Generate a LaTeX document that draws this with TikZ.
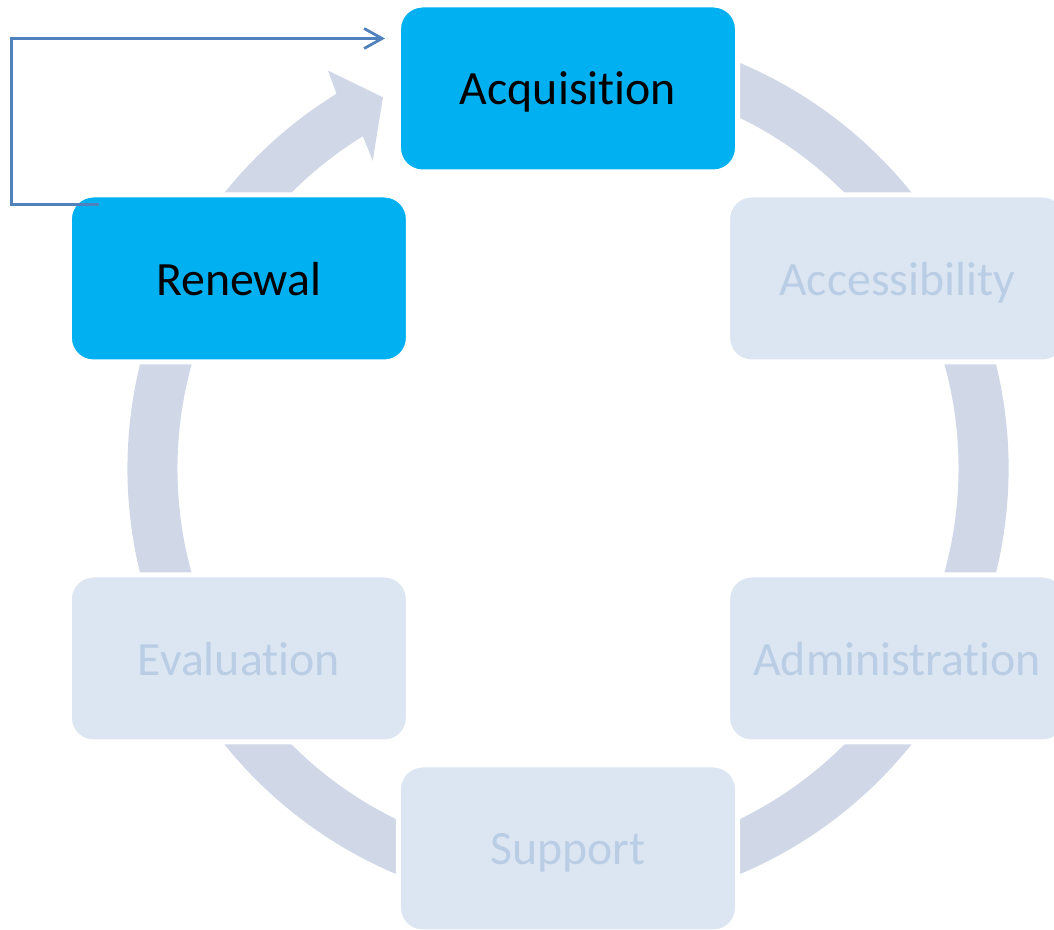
\documentclass[tikz,border=0pt]{standalone}
\usepackage{fontspec}
\setmainfont[Ligatures=NoCommon]{Carlito}
\usepackage{xcolor}
\definecolor{cycleCyan}{HTML}{00B0F0}
\definecolor{cycleLight}{HTML}{DCE6F2}
\definecolor{cycleFaded}{HTML}{B9CDE5}
\definecolor{cycleRing}{HTML}{D0D8E8}
\definecolor{cycleLine}{HTML}{4F81BD}
\usepackage{tikz}
\usetikzlibrary{arrows.meta,calc}
\tikzset{
    stage/.style={
        draw=white,
        fill=cycleLight,
        text=cycleFaded,
        rectangle,
        rounded corners=6mm,
        line width=1.25mm,
        minimum width=8.475cm,
        minimum height=4.175cm,
        text depth=0pt,
        align=center,
        font=\fontsize{34}{40}\selectfont
    },
    current/.style={
        stage,
        fill=cycleCyan,
        text=black
    },
    loopline/.style={
        -{Straight Barb[length=4.5mm,width=5mm]},
        line width=0.7mm,
        color=cycleLine
    }
}

\begin{document}
\begin{tikzpicture}
    \useasboundingbox (-14.2,-11.5375) rectangle (12.15,11.7125);
    \clip (-14.2,-11.5375) rectangle (12.15,11.7125);

    % Ring with its one arrow head
    \fill[cycleRing] (110:11.0125) arc[start angle=110, end angle=-238.3, radius=11.0125]
        -- (121.1:11.62) -- (116.5:10.37) -- (122.4:9.11)
        -- (121.7:9.7625) arc[start angle=-238.3, end angle=110, radius=9.7625] -- cycle;

    % Stages round the ring
    \node[current] (acquisition) at (90:9.5) {Acquisition};
    \node[stage] (accessibility) at (30:9.5) {Accessibility};
    \node[stage] (administration) at (-30:9.5) {Administration};
    \node[stage] (support) at (-90:9.5) {Support};
    \node[stage] (evaluation) at (-150:9.5) {Evaluation};
    \node[current] (renewal) at (150:9.5) {Renewal};

    % Loop back from renewal
    \coordinate (loopstart) at ($(renewal.center)+(-3.51,1.85)$);
    \coordinate (loopend) at ($(acquisition.center)+(-4.575,1.25)$);
    \draw[loopline] (loopstart) -- ++(-2.175,0) |- (loopend);
\end{tikzpicture}
\end{document}
